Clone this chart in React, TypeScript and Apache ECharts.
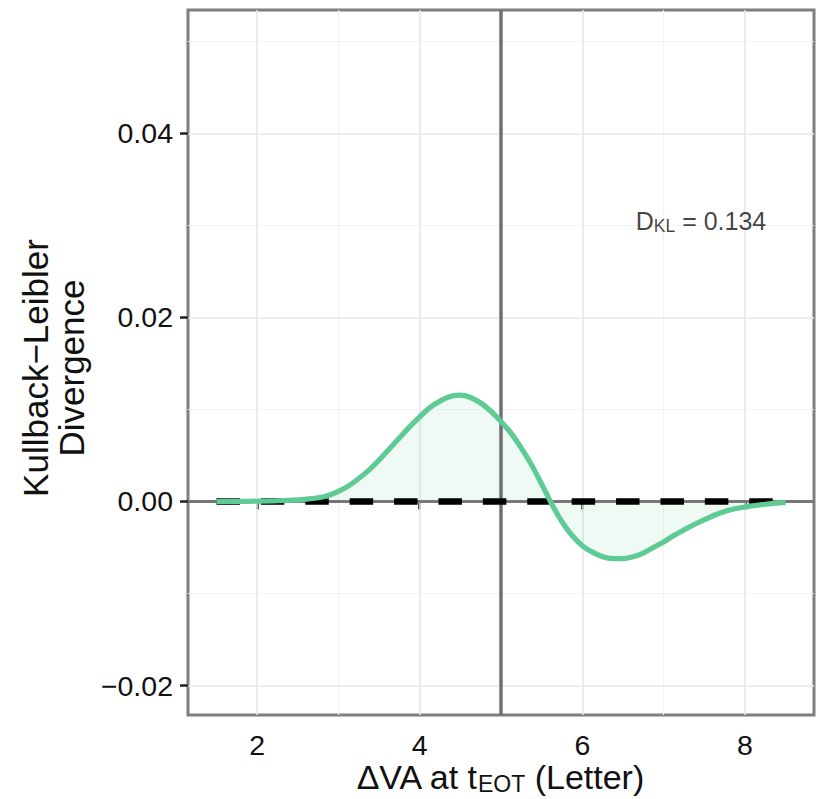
import React, { useEffect, useRef } from "react";
import * as echarts from "echarts";

// ---- data ----
const xValues = [1.5, 1.75, 2.0, 2.25, 2.5, 2.625, 2.75, 2.875, 3.0, 3.125, 3.25, 3.375, 3.5, 3.625, 3.75, 3.875, 4.0, 4.125, 4.25, 4.375, 4.5, 4.625, 4.75, 4.875, 5.0, 5.125, 5.25, 5.375, 5.5, 5.625, 5.75, 5.875, 6.0, 6.125, 6.25, 6.375, 6.5, 6.625, 6.75, 6.875, 7.0, 7.125, 7.25, 7.375, 7.5, 7.625, 7.75, 7.875, 8.0, 8.25, 8.5];
const klValues = [0, 0.00001, 0.00003, 0.00008, 0.00018, 0.00028, 0.0004, 0.00065, 0.0011, 0.0017, 0.0025, 0.0034, 0.0045, 0.0057, 0.0069, 0.0081, 0.0092, 0.0102, 0.0109, 0.0114, 0.01155, 0.0113, 0.0107, 0.0098, 0.0087, 0.0074, 0.0058, 0.004, 0.0019, -0.0003, -0.0022, -0.0037, -0.0048, -0.0055, -0.006, -0.0062, -0.0062, -0.006, -0.0056, -0.005, -0.0044, -0.0037, -0.0031, -0.0025, -0.002, -0.0015, -0.0011, -0.0008, -0.0006, -0.0003, -0.0001];
const baselineX = [1.5, 8.5];
const baselineY = 0;
const refLineX = 5;
const refLineY = 0;
const xTicks = [2, 4, 6, 8];
const xMinor = [3, 5, 7];
const yTicks = [-0.02, 0, 0.02, 0.04];
const yMinor = [-0.01, 0.01, 0.03, 0.05];
const xRange = [1.15, 8.85];
const yRange = [-0.0232, 0.0534];
const annotationPos = [7.46, 0.0305];
const annotationMain = "D";
const annotationSub = "KL";
const annotationRest = " = 0.134";
const xTitleMain = "\u0394VA at t";
const xTitleSub = "EOT";
const xTitleRest = " (Letter)";
const yTitle = "Kullback\u2212Leibler\nDivergence";

const FONT = "Liberation Sans, Arial, Helvetica, sans-serif";
const GREEN = "#5ecb95";

export default function App() {
  const ref = useRef<HTMLDivElement>(null);
  useEffect(() => {
    if (!ref.current) return;
    const chart = echarts.init(ref.current, undefined, { renderer: "svg" });
    const curve = xValues.map((x, i) => [x, klValues[i]]);
    const fmtY = (v: number) => (v < 0 ? "\u2212" : "") + Math.abs(v).toFixed(2);
    const option: any = {
      animation: false,
      backgroundColor: "#ffffff",
      grid: {
        left: 188,
        top: 10,
        width: 626,
        height: 705,
        show: true,
        borderColor: "#7f7f7f",
        borderWidth: 3,
        backgroundColor: "transparent",
      },
      xAxis: {
        type: "value",
        min: xRange[0],
        max: xRange[1],
        axisLine: { show: false },
        splitLine: { show: false },
        axisTick: {
          show: true,
          customValues: xTicks,
          length: 8,
          lineStyle: { color: "#222", width: 2.5 },
        },
        axisLabel: {
          customValues: xTicks,
          margin: 15,
          fontSize: 28.5,
          fontFamily: FONT,
          color: "#111",
        },
      },
      yAxis: {
        type: "value",
        min: yRange[0],
        max: yRange[1],
        axisLine: { show: false },
        splitLine: { show: false },
        axisTick: {
          show: true,
          customValues: yTicks,
          length: 8,
          lineStyle: { color: "#222", width: 2.5 },
        },
        axisLabel: {
          customValues: yTicks,
          margin: 15,
          fontSize: 28.5,
          fontFamily: FONT,
          color: "#111",
          formatter: fmtY,
        },
      },
      series: [
        {
          type: "line",
          z: 1,
          data: [[baselineX[0], baselineY]],
          symbol: "none",
          lineStyle: { opacity: 0 },
          silent: true,
          markLine: {
            z: 1,
            silent: true,
            symbol: "none",
            label: { show: false },
            animation: false,
            data: [
              ...xMinor.map((v) => ({ xAxis: v, lineStyle: { color: "#f2f2f2", width: 1.2, type: "solid" } })),
              ...yMinor.map((v) => ({ yAxis: v, lineStyle: { color: "#f2f2f2", width: 1.2, type: "solid" } })),
              ...xTicks.map((v) => ({ xAxis: v, lineStyle: { color: "#e6e6e6", width: 1.6, type: "solid" } })),
              ...yTicks.map((v) => ({ yAxis: v, lineStyle: { color: "#e6e6e6", width: 1.6, type: "solid" } })),
            ],
          },
        },
        {
          type: "line",
          z: 2,
          data: curve,
          smooth: 0.3,
          symbol: "none",
          silent: true,
          lineStyle: { width: 0, opacity: 0 },
          areaStyle: { color: GREEN, opacity: 0.1, origin: 0 },
        },
        {
          type: "line",
          z: 3,
          data: [[baselineX[0], baselineY]],
          symbol: "none",
          lineStyle: { opacity: 0 },
          silent: true,
          markLine: {
            z: 3,
            silent: true,
            symbol: "none",
            label: { show: false },
            animation: false,
            data: [
              { yAxis: refLineY, lineStyle: { color: "#777777", width: 2.8, type: "solid" } },
              { xAxis: refLineX, lineStyle: { color: "#707070", width: 3.5, type: "solid" } },
            ],
          },
        },
        {
          type: "line",
          z: 4,
          data: baselineX.map((x) => [x, baselineY]),
          symbol: "none",
          silent: true,
          lineStyle: { color: "#000000", width: 6.5, type: [23.5, 20.9], cap: "butt" },
        },
        {
          type: "line",
          z: 5,
          data: curve,
          smooth: 0.3,
          symbol: "none",
          silent: true,
          lineStyle: { color: GREEN, width: 5.2, cap: "butt" },
        },
        {
          type: "scatter",
          z: 6,
          data: [annotationPos],
          symbolSize: 0,
          silent: true,
          label: {
            show: true,
            position: "inside",
            formatter: `{m|${annotationMain}}{s|${annotationSub}}{m|${annotationRest}}`,
            rich: {
              m: { fontSize: 25, fontFamily: FONT, color: "#111", lineHeight: 28 },
              s: { fontSize: 17.5, fontFamily: FONT, color: "#111", lineHeight: 2, verticalAlign: "bottom" },
            },
          },
        },
      ],
      graphic: [
        {
          type: "text",
          x: 500,
          y: 777,
          silent: true,
          style: {
            text: `{m|${xTitleMain}}{s|${xTitleSub}}{m|${xTitleRest}}`,
            align: "center",
            verticalAlign: "middle",
            rich: {
              m: { fontSize: 34, fontFamily: FONT, fill: "#111", lineHeight: 36 },
              s: { fontSize: 23, fontFamily: FONT, fill: "#111", lineHeight: 2, verticalAlign: "bottom" },
            },
          },
        },
        {
          type: "text",
          x: 53,
          y: 368,
          rotation: Math.PI / 2,
          silent: true,
          style: {
            text: yTitle,
            align: "center",
            verticalAlign: "middle",
            fontSize: 35,
            lineHeight: 36,
            fontFamily: FONT,
            fill: "#111",
          },
        },
      ],
    };
    chart.setOption(option);
    return () => chart.dispose();
  }, []);
  return (
    <div
      ref={ref}
      style={{ position: "absolute", left: 0, top: 0, width: 817, height: 799 }}
    />
  );
}
